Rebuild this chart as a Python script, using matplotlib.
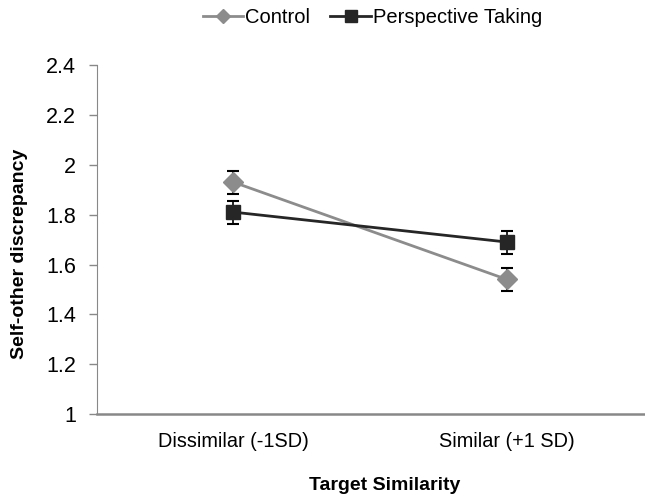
import matplotlib
matplotlib.use("Agg")
from matplotlib import pyplot as plt
from matplotlib.lines import Line2D

categories = ["Dissimilar (-1SD)", "Similar (+1 SD)"]
control = [1.93, 1.54]
control_err = [0.046, 0.046]
perspective = [1.81, 1.69]
perspective_err = [0.046, 0.046]
yticks = [1, 1.2, 1.4, 1.6, 1.8, 2, 2.2, 2.4]
ytick_labels = ["1", "1.2", "1.4", "1.6", "1.8", "2", "2.2", "2.4"]

plt.rcParams['font.family'] = ['Liberation Sans', 'DejaVu Sans']

grey = "#8c8c8c"
dark = "#262626"

fig = plt.figure(figsize=(6.45, 4.96), dpi=100)
ax = fig.add_axes([0.150, 0.165, 0.848, 0.704])

xpos = [0, 1]
ax.errorbar(xpos, control, yerr=control_err, color=grey, lw=2,
            marker="D", markersize=10, markerfacecolor=grey, markeredgecolor=grey,
            ecolor="black", elinewidth=1.2, capsize=4.5, capthick=1.5, zorder=3)
ax.errorbar(xpos, perspective, yerr=perspective_err, color=dark, lw=2,
            marker="s", markersize=10, markerfacecolor=dark, markeredgecolor=dark,
            ecolor="black", elinewidth=1.2, capsize=4.5, capthick=1.5, zorder=3)

ax.set_xlim(-0.5, 1.5)
ax.set_ylim(1, 2.4)
ax.set_xticks(xpos)
ax.set_xticklabels(categories, fontsize=14.3)
ax.set_yticks(yticks)
ax.set_yticklabels(ytick_labels, fontsize=15.5)
ax.tick_params(axis="x", length=0, pad=13)
ax.tick_params(axis="y", length=6, color="#888888", width=1, pad=9)

for s in ["top", "right"]:
    ax.spines[s].set_visible(False)
ax.spines["left"].set_color("#888888")
ax.spines["bottom"].set_color("#888888")
ax.spines["bottom"].set_linewidth(1.8)

ax.set_xlabel("Target Similarity", fontsize=14, fontweight="bold")
ax.set_ylabel("Self-other discrepancy", fontsize=14, fontweight="bold")
ax.xaxis.set_label_coords(0.527, -0.203)
ax.yaxis.set_label_coords(-0.141, 0.458)
ax.xaxis.label.set_va("center")
ax.yaxis.label.set_va("center")

handles = [
    Line2D([], [], color=grey, lw=2, marker="D", markersize=7, markerfacecolor=grey, markeredgecolor=grey),
    Line2D([], [], color=dark, lw=2, marker="s", markersize=8, markerfacecolor=dark, markeredgecolor=dark),
]
ax.legend(handles, ["Control", "Perspective Taking"], loc="center",
          bbox_to_anchor=(0.504, 1.135), ncol=2, frameon=False,
          fontsize=14.5, handlelength=2.0, columnspacing=1.0, handletextpad=0.1)

fig.savefig("out.png", dpi=100)
